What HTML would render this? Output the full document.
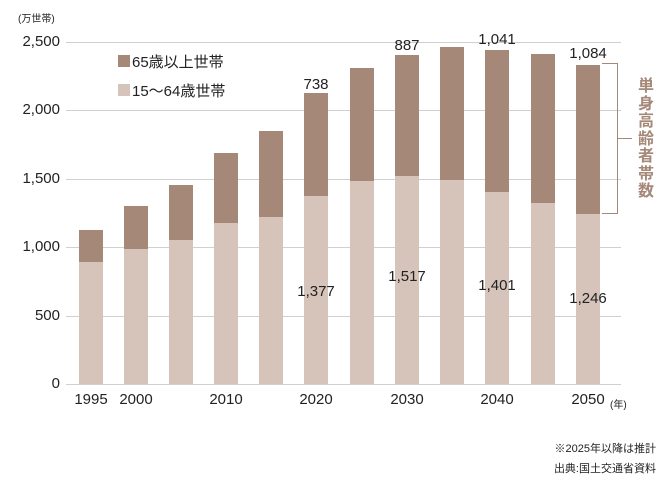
<!DOCTYPE html><html><head><meta charset="utf-8"><style>
body{margin:0;width:668px;height:487px;background:#fff;position:relative;font-family:"Liberation Sans","Noto Sans CJK JP",sans-serif;color:#222;overflow:hidden}
.a{position:absolute}
.g{position:absolute;left:66px;width:555px;height:1px;background:#d0d0d0}
.yl{position:absolute;right:608px;font-size:15px;line-height:16px}
.b{position:absolute;width:24px}
.t{background:#a58878}.l{background:#d6c3b9}
.x{position:absolute;font-size:15px;top:391px;transform:translateX(-50%)}
.v{position:absolute;font-size:15px;transform:translateX(-50%)}
</style></head><body>
<div class="a" style="left:18px;top:10px;font-size:10px">(万世帯)</div>
<div class="g" style="top:42px"></div><div class="g" style="top:110px"></div><div class="g" style="top:179px"></div><div class="g" style="top:247px"></div><div class="g" style="top:316px"></div><div class="g" style="top:384px"></div>
<div class="yl" style="top:34px">2,500</div><div class="yl" style="top:102px">2,000</div><div class="yl" style="top:171px">1,500</div><div class="yl" style="top:239px">1,000</div><div class="yl" style="top:308px">500</div><div class="yl" style="top:376px">0</div>
<div class="a" style="left:118px;top:55px;width:12px;height:12px;background:#a58878"></div><div class="a" style="left:132px;top:51px;font-size:15px">65歳以上世帯</div>
<div class="a" style="left:118px;top:84px;width:12px;height:12px;background:#d6c3b9"></div><div class="a" style="left:132px;top:80px;font-size:15px">15〜64歳世帯</div>
<div id="bars"></div>
<script>
var c=[91,136,181,226,271,316,362,407,452,497,543,588],tp=[230,206,185,153,131,93,68,55,47,50,54,65],lo=[262,249,240,223,217,196,181,176,180,192,203,214],h='';
for(var i=0;i<12;i++){h+='<div class="b t" style="left:'+(c[i]-12)+'px;top:'+tp[i]+'px;height:'+(lo[i]-tp[i])+'px"></div><div class="b l" style="left:'+(c[i]-12)+'px;top:'+lo[i]+'px;height:'+(384-lo[i])+'px"></div>';}
document.getElementById('bars').innerHTML=h;
</script>
<div class="x" style="left:91px">1995</div><div class="x" style="left:136px">2000</div><div class="x" style="left:226px">2010</div><div class="x" style="left:316px">2020</div><div class="x" style="left:407px">2030</div><div class="x" style="left:497px">2040</div><div class="x" style="left:588px">2050</div>
<div class="a" style="left:610px;top:396px;font-size:10px">(年)</div>
<div class="v" style="left:316px;top:76px">738</div><div class="v" style="left:407px;top:37px">887</div><div class="v" style="left:497px;top:31px">1,041</div><div class="v" style="left:588px;top:45px">1,084</div>
<div class="v" style="left:316px;top:283px">1,377</div><div class="v" style="left:407px;top:268px">1,517</div><div class="v" style="left:497px;top:277px">1,401</div><div class="v" style="left:588px;top:290px">1,246</div>
<div class="a" style="left:602px;top:63px;width:15px;height:149px;border:1px solid #a58878;border-left:none"></div>
<div class="a" style="left:618px;top:138px;width:14px;height:1px;background:#a58878"></div>
<div class="a" style="left:638px;top:78px;width:18px;font-size:16px;line-height:17.5px;color:#a58878;font-weight:bold">単身高齢者帯数</div>
<div class="a" style="right:12px;top:440px;font-size:11px">※2025年以降は推計</div>
<div class="a" style="right:12px;top:460px;font-size:11px">出典:国土交通省資料</div>
</body></html>
